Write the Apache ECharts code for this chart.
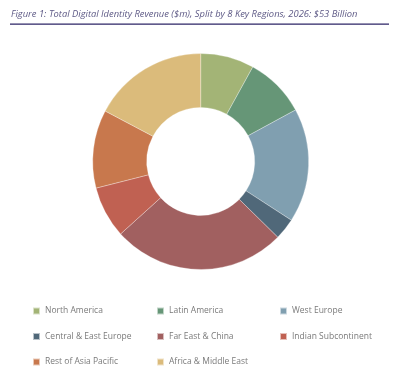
<!DOCTYPE html>
<html><head><meta charset="utf-8">
<script src="https://cdn.jsdelivr.net/npm/echarts@6/dist/echarts.min.js"></script>
<style>html,body{margin:0;padding:0;background:#fff}#c{width:400px;height:379px}</style>
</head><body><div id="c"></div>
<script>
const titleText = 'Figure 1: Total Digital Identity Revenue ($m), Split by 8 Key Regions, 2026: $53 Billion';
const regions = ['North America','Latin America','West Europe','Central & East Europe','Far East & China','Indian Subcontinent','Rest of Asia Pacific','Africa & Middle East'];
const revenue = [4250, 4800, 9050, 1700, 13750, 4100, 6200, 9150];
const colors = ['#a3b476','#669677','#809fb0','#506879','#a16060','#c06152','#c8784d','#dbbb7b'];
const legendCols = [
  ['North America','Central & East Europe','Rest of Asia Pacific'],
  ['Latin America','Far East & China','Africa & Middle East'],
  ['West Europe','Indian Subcontinent']
];
const legendLeft = [32, 156, 279];

const chart = echarts.init(document.getElementById('c'));
chart.setOption({
  animation: false,
  color: colors,
  title: {
    text: titleText, left: 11, top: 10, padding: 0,
    textStyle: {fontFamily: 'Open Sans', fontStyle: 'italic', fontWeight: 'normal', fontSize: 9.4, color: '#5e5a86'}
  },
  graphic: [{type: 'rect', shape: {x: 10, y: 23.5, width: 379, height: 1.3}, style: {fill: '#2d2566'}}],
  legend: legendCols.map((d, i) => ({
    data: d, orient: 'vertical', left: legendLeft[i], top: 305, padding: 0,
    itemWidth: 7, itemHeight: 7, itemGap: 13.5, icon: 'rect',
    textStyle: {fontFamily: 'Open Sans', fontSize: 8.5, color: '#7a7a7a', lineHeight: 12}
  })),
  series: [{
    type: 'pie', center: [200.7, 161.5], radius: [54, 108], startAngle: 90, clockwise: true,
    label: {show: false}, labelLine: {show: false},
    itemStyle: {borderColor: 'rgba(255,255,255,0.6)', borderWidth: 0.5},
    emphasis: {disabled: true},
    data: regions.map((r, i) => ({name: r, value: revenue[i]}))
  }]
});
</script></body></html>
